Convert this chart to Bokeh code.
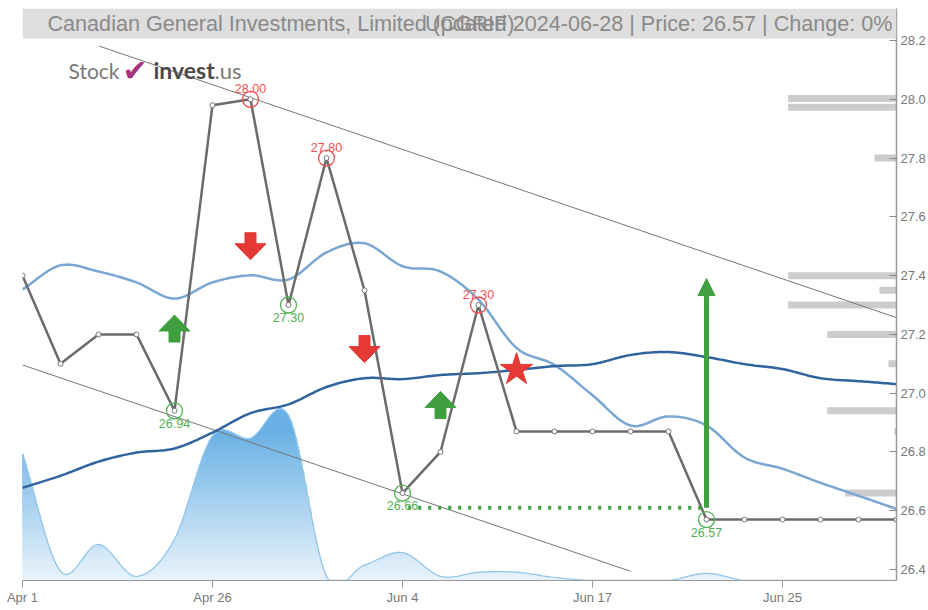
import numpy as np
from bokeh.plotting import figure
from bokeh.models import (Range1d, FixedTicker, BoxAnnotation, Label, Arrow,
                          NormalHead, PrintfTickFormatter)
from bokeh.core.properties import value
from bokeh.embed import file_html
from bokeh.resources import INLINE

# ---------------- data ----------------
tick_labels = ["Apr 1", "Apr 26", "Jun 4", "Jun 17", "Jun 25"]
price = [27.40, 27.10, 27.20, 27.20, 26.94, 27.98, 28.00, 27.30, 27.80, 27.35,
         26.66, 26.80, 27.30, 26.87, 26.87, 26.87, 26.87, 26.87, 26.57, 26.57,
         26.57, 26.57, 26.57, 26.57]
band_upper = [27.353, 27.435, 27.414, 27.377, 27.322, 27.377, 27.401, 27.387, 27.479, 27.510,
              27.432, 27.414, 27.318, 27.154, 27.096, 26.993, 26.890, 26.921, 26.890, 26.781,
              26.743, 26.695, 26.651, 26.606]
moving_avg = [26.678, 26.719, 26.767, 26.798, 26.812, 26.866, 26.932, 26.962, 27.021, 27.051,
              27.048, 27.062, 27.068, 27.079, 27.092, 27.099, 27.130, 27.140, 27.123, 27.099,
              27.082, 27.051, 27.041, 27.031]
volume = [123000, 9000, 35000, 4000, 40000, 140000, 138000, 160000, 4000, 15000,
          27000, 4000, 8000, 8000, 3000, 0, 0, 0, 7000, 0, 0, 0, 0, 0]
high_idx = [6, 8, 12]
low_idx = [4, 7, 10, 18]
buy_idx = [4, 11]
buy_level = [27.22, 26.96]
sell_idx = [6, 9]
sell_level = [27.50, 27.15]
star_idx = [13]
star_level = [27.08]
target_idx = 18
target_from = 26.61
target_to = 27.39
support_from = 10
support_level = 26.61
upper_trend_x = [2.02, 23.0]
upper_trend_y = [28.181, 27.257]
lower_trend_x = [0.0, 16.0]
lower_trend_y = [27.096, 26.394]
vap_levels = [28.003, 27.973, 27.80, 27.40, 27.35, 27.30, 27.20, 27.10, 26.94, 26.87, 26.66]
vap_strength = [108, 108, 22, 108, 17, 108, 69, 8, 69, 2, 51]
y_ticks = [26.4, 26.6, 26.8, 27.0, 27.2, 27.4, 27.6, 27.8, 28.0, 28.2]
title_left = "Canadian General Investments, Limited (CGRIF)"
title_right = "Updated 2024-06-28 | Price: 26.57 | Change: 0%"

# ---------------- helpers ----------------
def smooth(vals, n=16):
    v = np.asarray(vals, float)
    m = len(v)
    t = np.zeros(m)
    t[1:-1] = (v[2:] - v[:-2]) / 2.0
    t[0] = v[1] - v[0]
    t[-1] = v[-1] - v[-2]
    xs, ys = [], []
    s = np.linspace(0, 1, n, endpoint=False)
    h00 = 2 * s**3 - 3 * s**2 + 1
    h10 = s**3 - 2 * s**2 + s
    h01 = -2 * s**3 + 3 * s**2
    h11 = s**3 - s**2
    for i in range(m - 1):
        xs.extend(i + s)
        ys.extend(h00 * v[i] + h10 * t[i] + h01 * v[i + 1] + h11 * t[i + 1])
    xs.append(m - 1)
    ys.append(v[-1])
    return np.array(xs), np.array(ys)

def mix(c1, c2, f):
    a = [int(c1[i:i + 2], 16) for i in (1, 3, 5)]
    b = [int(c2[i:i + 2], 16) for i in (1, 3, 5)]
    return "#%02x%02x%02x" % tuple(int(round(a[k] + (b[k] - a[k]) * f)) for k in range(3))

n = len(price)
idx = np.arange(n)
Y0, Y1 = 26.3626, 28.309
FONT = "Liberation Sans"

p = figure(width=928, height=607, x_range=Range1d(0, n - 1), y_range=Range1d(Y0, Y1),
           y_axis_location="right", output_backend="svg", toolbar_location=None,
           min_border_left=22, min_border_right=23, min_border_top=8, min_border_bottom=27,
           outline_line_color=None, background_fill_color="white", border_fill_color="white")
p.grid.visible = False

# pixel scale (approx.) for drawing shapes of fixed pixel size
PX_X = 874.0 / (n - 1)
PX_Y = 572.0 / (Y1 - Y0)

# ---------------- volume-at-price bars ----------------
vmax_s = max(vap_strength)
vap_len = [s / vmax_s * 0.124 * (n - 1) for s in vap_strength]
p.hbar(y=vap_levels, left=[(n - 1) - L for L in vap_len], right=[n - 1] * len(vap_len),
       height=7.0 / PX_Y, fill_color="#cccccc", line_color=None)

# ---------------- volume area (gradient imitation) ----------------
vol_top = max(volume) * 572.0 / 165.0
p.extra_y_ranges = {"vol": Range1d(0, vol_top)}
vx, vy = smooth(volume)
vy = np.clip(vy, 0, None)
light, dark = "#eaf3fb", "#68b0e5"
levels = 48
vtop = max(vy)
for k in range(levels):
    h = vtop * k / levels
    f = min(1.0, (h + vtop / levels / 2) / (vtop * 0.88))
    p.varea(x=vx, y1=np.full_like(vy, h), y2=np.maximum(vy, h),
            fill_color=mix(light, dark, f), y_range_name="vol")
p.line(vx, vy, line_color="#92c7ec", line_width=1.3, y_range_name="vol")

# ---------------- trend lines ----------------
p.line(upper_trend_x, upper_trend_y, line_color="#777777", line_width=1)
p.line(lower_trend_x, lower_trend_y, line_color="#777777", line_width=1)

# ---------------- bands / average ----------------
ux, uy = smooth(band_upper)
p.line(ux, uy, line_color="#7aa6d3", line_width=2.5)
mx, my = smooth(moving_avg)
p.line(mx, my, line_color="#31649f", line_width=2.5)

# ---------------- price ----------------
p.line(idx, price, line_color="#6b6b6b", line_width=2.5)
p.scatter(idx, price, size=5, fill_color="white", line_color="#777777", line_width=1)

# support dotted line and target arrow
p.line([support_from + 0.15, target_idx - 0.05], [support_level, support_level],
       line_color="#3f9f3f", line_width=4, line_dash="3 7")
p.add_layout(Arrow(end=NormalHead(size=17, fill_color="#41a03f", line_color="#41a03f"),
                   x_start=target_idx, y_start=target_from, x_end=target_idx, y_end=target_to,
                   line_color="#41a03f", line_width=5))

# ---------------- signal arrows ----------------
def arrow_shape(cx, cy, up=True):
    pts = [(0, 13.5), (15.5, -2.5), (5.5, -2.5), (5.5, -13.5), (-5.5, -13.5), (-5.5, -2.5), (-15.5, -2.5)]
    sgn = 1 if up else -1
    return ([cx + dx / PX_X for dx, dy in pts], [cy + sgn * dy / PX_Y for dx, dy in pts])

bxs, bys = zip(*[arrow_shape(i, l, True) for i, l in zip(buy_idx, buy_level)])
p.patches(list(bxs), list(bys), fill_color="#3f9f3f", line_color="#3f9f3f")
sxs, sys_ = zip(*[arrow_shape(i, l, False) for i, l in zip(sell_idx, sell_level)])
p.patches(list(sxs), list(sys_), fill_color="#e53935", line_color="#e53935")

p.scatter(star_idx, star_level, marker="star", size=34, fill_color="#e53935", line_color="#e53935")

# ---------------- high / low markers ----------------
hy = [price[i] for i in high_idx]
ly = [price[i] for i in low_idx]
p.scatter(high_idx, hy, size=16, fill_alpha=0, line_color="#f05050", line_width=1.3)
p.scatter(low_idx, ly, size=16, fill_alpha=0, line_color="#52b152", line_width=1.3)
p.text(high_idx, hy, text=["%.2f" % v for v in hy], text_align="center", text_baseline="bottom",
       y_offset=-6, text_font=value(FONT), text_font_size="12.5px", text_color="#f05050")
p.text(low_idx, ly, text=["%.2f" % v for v in ly], text_align="center", text_baseline="top",
       y_offset=8, text_font=value(FONT), text_font_size="12.5px", text_color="#52b152")

# ---------------- header band ----------------
band_bottom = Y1 - 30.0 / PX_Y
p.add_layout(BoxAnnotation(bottom=band_bottom, fill_color="#dedede", fill_alpha=1.0, line_alpha=0))
mid = (Y1 + band_bottom) / 2
p.add_layout(Label(x=0, y=mid, x_offset=25, text=title_left, text_baseline="middle",
                   text_font=FONT, text_font_size="21.6px", text_color="#8a8a8a"))
p.add_layout(Label(x=n - 1, y=mid, x_offset=-4, text=title_right, text_baseline="middle",
                   text_align="right", text_font=FONT, text_font_size="21.6px", text_color="#8a8a8a"))

# ---------------- logo ----------------
logo_y = 28.0 + 29.0 / PX_Y
p.add_layout(Label(x=46.0 / PX_X, y=logo_y, text="Stock", text_font="Lato",
                   text_font_size="21px", text_color="#7a7a7a", text_baseline="alphabetic"))
p.add_layout(Label(x=100.0 / PX_X, y=logo_y, text="✔", text_font="DejaVu Sans",
                   text_font_size="30px", text_color="#a8327f", text_baseline="alphabetic"))
p.add_layout(Label(x=131.0 / PX_X, y=logo_y, text="invest", text_font="Lato", text_font_style="bold",
                   text_font_size="23px", text_color="#4a4a4a", text_baseline="alphabetic"))
p.add_layout(Label(x=192.0 / PX_X, y=logo_y, text=".us", text_font="Lato",
                   text_font_size="22px", text_color="#7a7a7a", text_baseline="alphabetic"))

# ---------------- axes ----------------
tick_pos = list(range(0, n, 5))[:len(tick_labels)]
p.xaxis.ticker = FixedTicker(ticks=tick_pos)
p.xaxis.major_label_overrides = {t: lab for t, lab in zip(tick_pos, tick_labels)}
p.xaxis.axis_line_color = "#999999"
p.xaxis.major_tick_line_color = "#999999"
p.xaxis.major_tick_out = 7
p.xaxis.major_tick_in = 0
p.xaxis.minor_tick_line_color = None
p.xaxis.major_label_standoff = 2
p.xaxis.major_label_text_font = FONT
p.xaxis.major_label_text_font_size = "13px"
p.xaxis.major_label_text_color = "#777777"

p.yaxis.ticker = FixedTicker(ticks=y_ticks)
p.yaxis.formatter = PrintfTickFormatter(format="%.1f")
p.yaxis.axis_line_color = "#999999"
p.yaxis.axis_line_width = 1.5
p.yaxis.major_tick_line_color = "#888888"
p.yaxis.major_tick_in = 7
p.yaxis.major_tick_out = 0
p.yaxis.minor_tick_line_color = None
p.yaxis.major_label_standoff = 4
p.yaxis.major_label_text_font = FONT
p.yaxis.major_label_text_font_size = "13px"
p.yaxis.major_label_text_color = "#777777"

open("out.html", "w").write(file_html(p, INLINE))
